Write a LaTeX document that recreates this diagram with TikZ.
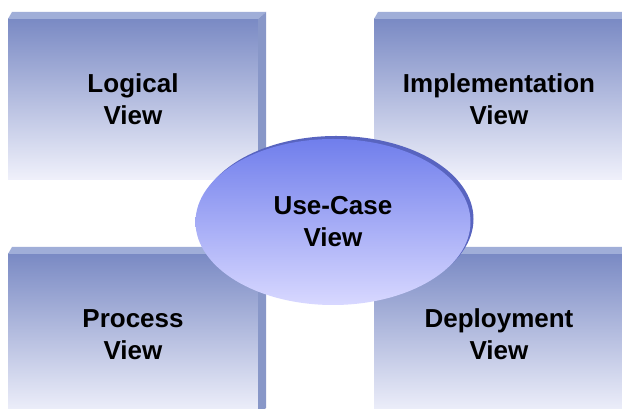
\documentclass[tikz,border=0pt]{standalone}
\usepackage{fontspec}
\setmainfont{Liberation Sans}
\usetikzlibrary{positioning,shapes.geometric}

\definecolor{facetop}{RGB}{122,138,196}
\definecolor{facebottom}{RGB}{240,241,251}
\definecolor{bevtop}{RGB}{160,174,216}
\definecolor{bevside}{RGB}{136,151,200}
\definecolor{uctop}{RGB}{112,126,236}
\definecolor{ucbottom}{RGB}{216,216,255}
\definecolor{ucrim}{RGB}{88,100,192}

\tikzset{
  viewbox/.style={rectangle, minimum width=250pt, minimum height=161pt,
    inner sep=0pt, outer sep=0pt, top color=facetop, bottom color=facebottom,
    align=center, font=\bfseries\fontsize{26}{32}\selectfont},
  usecase/.style={ellipse, minimum width=275pt, minimum height=166pt,
    inner sep=0pt, outer sep=0pt, top color=uctop, bottom color=ucbottom,
    align=center, font=\bfseries\fontsize{26}{32}\selectfont},
}

\begin{document}
\begin{tikzpicture}[x=1pt,y=1pt]

      \fill[white] (0,0) rectangle (622,409);
      \useasboundingbox (0,0) rectangle (622,409);

      % Define nodes
	  \node[viewbox]                           (logical) at (133,309.5) {Logical\\View};
	  \node[viewbox, right=116pt of logical]   (impl) {Implementation\\View};
	  \node[viewbox, below=74pt of logical]    (process) {Process\\View};
	  \node[viewbox, right=116pt of process]   (deploy) {Deployment\\View};

	  % Bevels
	  \foreach \v in {logical,impl,process,deploy} {
	    \fill[bevtop] (\v.north west) -- ++(4,7) -- ([shift={(8,7)}]\v.north east) -- (\v.north east) -- cycle;
	    \fill[bevside] (\v.north east) -- ++(8,7) -- ([shift={(8,7)}]\v.south east) -- (\v.south east) -- cycle;
	  }

	  % Use-case ellipse
	  \coordinate (uc) at (333,187);
	  \fill[ucrim] ([shift={(3,3)}]uc) ellipse [x radius=137.5pt, y radius=83pt];
	  \node[usecase]                           (usecase) at (uc) {Use-Case\\View};

	\end{tikzpicture}
\end{document}
